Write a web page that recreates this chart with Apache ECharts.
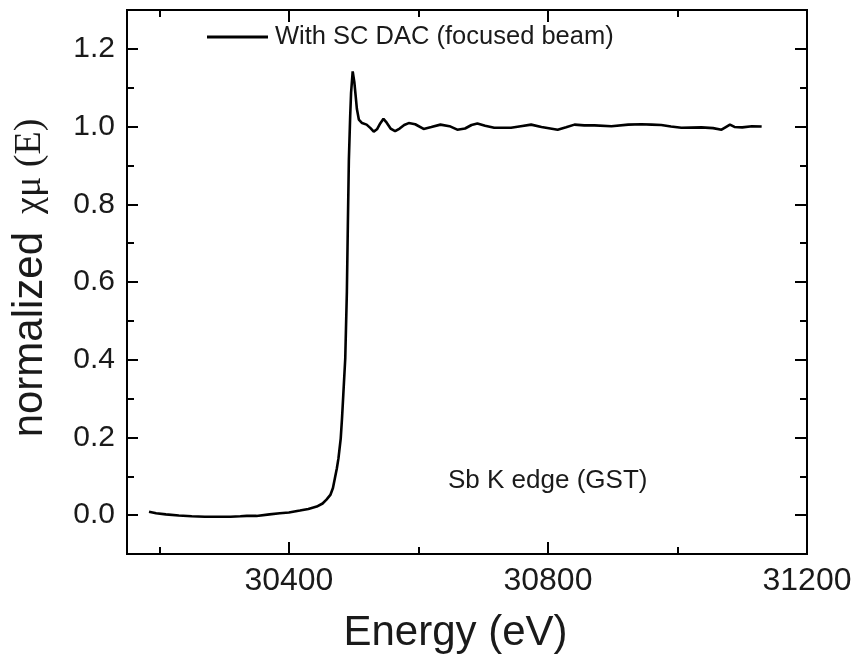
<!DOCTYPE html>
<html>
<head>
<meta charset="utf-8">
<script src="https://cdn.jsdelivr.net/npm/echarts@6/dist/echarts.min.js"></script>
<style>
  html, body { margin: 0; padding: 0; background: #fff; }
  #chart { width: 856px; height: 659px; }
</style>
</head>
<body>
<div id="chart"></div>
<script>
// Sb K-edge XANES, normalized absorption vs photon energy
const energy = [
  30184, 30195, 30210, 30230, 30250, 30270, 30290, 30310, 30325, 30335,
  30350, 30370, 30386, 30400, 30417, 30430, 30443, 30452, 30458, 30464,
  30468, 30471, 30474, 30476.5, 30480, 30482, 30484, 30487, 30489.5, 30491,
  30492.6, 30494.6, 30496, 30498.5, 30501, 30503, 30505, 30508, 30513, 30520,
  30526, 30531, 30536, 30541, 30546, 30551, 30557, 30564, 30571, 30578,
  30585, 30595, 30608, 30620, 30634, 30648, 30660, 30672, 30682, 30691,
  30703, 30717, 30743, 30758, 30774, 30790, 30815, 30828, 30841, 30856,
  30872, 30898, 30924, 30944, 30960, 30975, 30990, 31006, 31037, 31055,
  31068, 31074, 31081, 31088, 31100, 31115, 31130
];
const muNorm = [
  0.009, 0.005, 0.002, -0.001, -0.003, -0.004, -0.004, -0.004, -0.003, -0.002,
  -0.002, 0.002, 0.005, 0.007, 0.012, 0.016, 0.022, 0.030, 0.040, 0.052,
  0.070, 0.095, 0.120, 0.146, 0.197, 0.249, 0.310, 0.403, 0.574, 0.744,
  0.915, 1.026, 1.087, 1.142, 1.115, 1.080, 1.045, 1.018, 1.009, 1.005,
  0.996, 0.987, 0.993, 1.008, 1.020, 1.010, 0.995, 0.988, 0.995, 1.004,
  1.009, 1.006, 0.994, 0.999, 1.005, 1.001, 0.992, 0.995, 1.004, 1.008,
  1.002, 0.997, 0.997, 1.001, 1.005, 0.999, 0.992, 0.998, 1.005, 1.003,
  1.003, 1.001, 1.005, 1.006, 1.005, 1.004, 1.000, 0.997, 0.998, 0.996,
  0.992, 0.998, 1.005, 0.999, 0.998, 1.001, 1.000
];

const xMajor = [30400, 30800, 31200];
const xMinor = [30200, 30600, 31000];
const yMajor = [0.0, 0.2, 0.4, 0.6, 0.8, 1.0, 1.2];
const yMinor = [0.1, 0.3, 0.5, 0.7, 0.9, 1.1];

const seriesName = 'With SC DAC (focused beam)';
const edgeNote = 'Sb K edge (GST)';

const FONT = '"Liberation Sans", Arial, sans-serif';
const SERIF = '"Liberation Serif", "Times New Roman", serif';
const INK = '#1a1a1a';

const X_MIN = 30150, X_MAX = 31200;
const Y_MIN = -0.1, Y_MAX = 1.3;

function xAxisDef(pos, ticks, len, withLabels) {
  return {
    type: 'value', position: pos, min: X_MIN, max: X_MAX,
    axisLine: { show: false, onZero: false },
    splitLine: { show: false },
    axisTick: { show: true, inside: true, length: len, customValues: ticks,
                lineStyle: { color: '#000', width: 2 } },
    axisLabel: withLabels ? {
      show: true, customValues: ticks, margin: 11,
      fontFamily: FONT, fontSize: 32, color: INK,
      formatter: v => String(v)
    } : { show: false }
  };
}
function yAxisDef(pos, ticks, len, withLabels) {
  return {
    type: 'value', position: pos, min: Y_MIN, max: Y_MAX,
    axisLine: { show: false, onZero: false },
    splitLine: { show: false },
    axisTick: { show: true, inside: true, length: len, customValues: ticks,
                lineStyle: { color: '#000', width: 2 } },
    axisLabel: withLabels ? {
      show: true, customValues: ticks, margin: 12,
      fontFamily: FONT, fontSize: 30, color: INK,
      formatter: v => v.toFixed(1)
    } : { show: false }
  };
}

const xBottom = xAxisDef('bottom', xMajor, 12, true);
xBottom.name = 'Energy (eV)';
xBottom.nameLocation = 'middle';
xBottom.nameGap = 58;
xBottom.nameTextStyle = { fontFamily: FONT, fontSize: 42, color: INK, padding: [0, 23, 0, 0] };

const yLeft = yAxisDef('left', yMajor, 11, true);
yLeft.name = '{a|normalized}{b|χμ (E)}';
yLeft.nameLocation = 'middle';
yLeft.nameRotate = 90;
yLeft.nameGap = 76;
yLeft.nameTextStyle = {
  color: INK,
  rich: {
    a: { fontFamily: FONT, fontSize: 42, color: INK, padding: [0, 0, 0, 8] },
    b: { fontFamily: SERIF, fontSize: 38, color: INK, padding: [0, 0, 0, 18] }
  }
};

const chart = echarts.init(document.getElementById('chart'), null, { renderer: 'canvas' });
chart.setOption({
  animation: false,
  backgroundColor: '#fff',
  grid: {
    left: 127, right: 49, top: 10, bottom: 102,
    show: true, borderColor: '#000', borderWidth: 2, backgroundColor: 'transparent'
  },
  legend: {
    data: [seriesName],
    left: 207, top: 24, padding: 0,
    icon: 'rect', itemWidth: 61, itemHeight: 3,
    textStyle: { fontFamily: FONT, fontSize: 25.5, color: INK, padding: [0, 0, 0, 2] }
  },
  xAxis: [
    xBottom,
    xAxisDef('bottom', xMinor, 7, false),
    xAxisDef('top', xMajor, 12, false),
    xAxisDef('top', xMinor, 7, false)
  ],
  yAxis: [
    yLeft,
    yAxisDef('left', yMinor, 7, false),
    yAxisDef('right', yMajor, 12, false),
    yAxisDef('right', yMinor, 7, false)
  ],
  graphic: [{
    type: 'text', left: 448, top: 468,
    style: { text: edgeNote, font: '26px ' + FONT, fill: INK }
  }],
  series: [{
    name: seriesName,
    type: 'line',
    xAxisIndex: 0, yAxisIndex: 0,
    symbol: 'none',
    itemStyle: { color: '#000' },
    lineStyle: { color: '#000', width: 2.6 },
    data: energy.map((e, i) => [e, muNorm[i]])
  }]
});
</script>
</body>
</html>
